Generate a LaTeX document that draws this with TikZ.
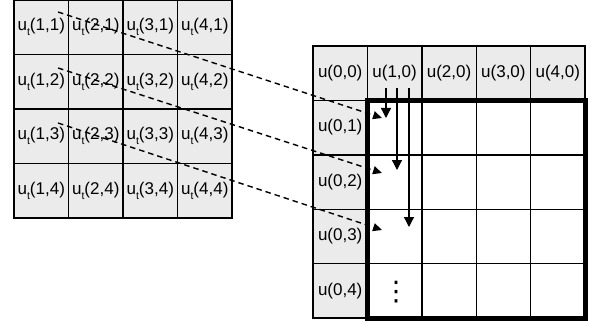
\documentclass[tikz,border=0pt]{standalone}
\usepackage{fontspec}
\setmainfont{Liberation Sans}
\newfontfamily\symfont{DejaVu Sans}
\usetikzlibrary{arrows.meta}
\definecolor{cellgrey}{RGB}{235,235,235}
% u with a small upright subscript t
\newcommand{\ut}{u\raisebox{-4.8pt}{\fontsize{10.5}{10.5}\selectfont t}}
\begin{document}
\begin{tikzpicture}[x=1pt,y=-1pt,
  cell/.style={draw=black, line width=1.4pt, fill=cellgrey,
    minimum width=54.5pt, minimum height=54.5pt, inner sep=0pt, outer sep=0pt,
    font=\fontsize{17}{19}\selectfont},
  rcell/.style={cell, minimum width=54.4pt, minimum height=54.4pt},
  frame/.style={draw=black, line width=5pt},
  downarrow/.style={draw=black, line width=1.3pt,
    -{Triangle[length=10pt,width=10pt]}},
  feedarrow/.style={draw=black, line width=1.4pt, dash pattern=on 5.5pt off 4pt,
    -{Triangle[length=9pt,width=8pt]}}]
\useasboundingbox (0,0) rectangle (591,326);

% left grid u_t(i,j)
\foreach \i in {1,...,4}
  \foreach \j in {1,...,4}
    \node[cell] (L\i\j) at ({14+54.5*(\i-0.5)},{54.5*(\j-0.5)}) {\ut(\i,\j)};

% right grid: header row and left column
\foreach \i in {0,...,4}
  \node[rcell] (R\i0) at ({313+54.4*(\i+0.5)},{46+27.2}) {u(\i,0)};
\foreach \j in {1,...,4}
  \node[rcell] (R0\j) at ({313+27.2},{46+54.4*(\j+0.5)}) {u(0,\j)};
% inner white cells
\foreach \i in {1,...,4}
  \foreach \j in {1,...,4}
    \node[rcell, fill=white] (R\i\j) at ({313+54.4*(\i+0.5)},{46+54.4*(\j+0.5)}) {};
% vertical ellipsis in the bottom row
\node[font=\symfont\fontsize{27}{27}\selectfont, inner sep=0pt, anchor=base]
  (dots) at (396,300) {⋮};

% bold frame round the inner block
\draw[frame] (R11.north west) rectangle (R44.south east);

% vertical arrows from u(1,0)
\coordinate (v1s) at (386,88);
\coordinate (v2s) at (397,88);
\coordinate (v3s) at (409,88);
\coordinate (v1e) at (386,118);
\coordinate (v2e) at (397,170);
\coordinate (v3e) at (409,227);
\draw[downarrow] (v1s) -- (v1e);
\draw[downarrow] (v2s) -- (v2e);
\draw[downarrow] (v3s) -- (v3e);

% dashed arrows from the left grid
\coordinate (d1s) at (58,12);
\coordinate (d2s) at (58,68);
\coordinate (d3s) at (58,123);
\coordinate (d1e) at (382,118);
\coordinate (d2e) at (382,173);
\coordinate (d3e) at (382,230);
\draw[feedarrow] (d1s) -- (d1e);
\draw[feedarrow] (d2s) -- (d2e);
\draw[feedarrow] (d3s) -- (d3e);
\end{tikzpicture}
\end{document}
